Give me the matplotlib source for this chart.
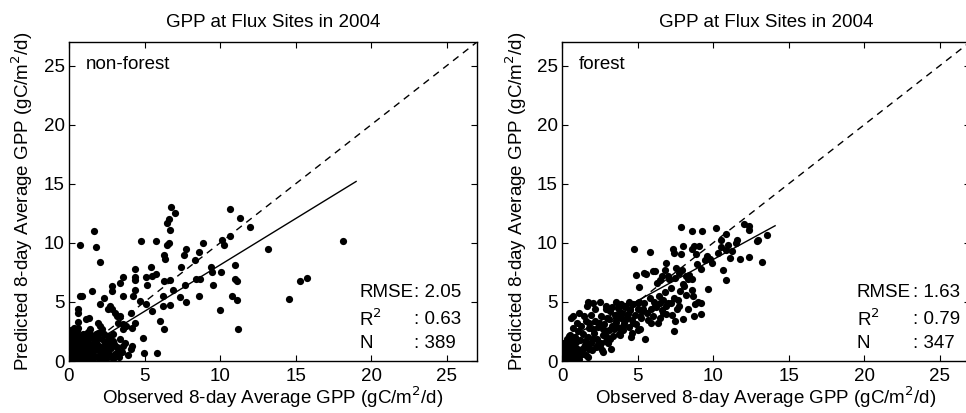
import matplotlib
matplotlib.use("Agg")
import matplotlib.pyplot as plt
import numpy as np

plt.rcParams['font.family'] = ['Liberation Sans', 'DejaVu Sans']

# non-forest sites: observed vs predicted 8-day GPP
nonforest_obs = [
    6.75, 7.04, 6.62, 6.47, 6.71, 1.63, 0.71, 1.77, 2.08, 4.77, 5.76, 6.51, 6.62,
    10.68, 11.32, 11.99, 10.13, 10.29, 10.68, 8.87, 7.77, 8.6, 7.64, 8.32, 6.27, 6.38,
    13.18, 18.12, 15.72, 15.32, 14.55, 11.21, 10.02, 10.77, 11.1, 10.99, 11.1, 11.01,
    10.04, 9.38, 9.45, 9.52, 8.43, 8.65, 8.63, 7.4, 7.66, 7.77, 7.35, 6.87, 6.71, 6.27,
    6.2, 6.69, 6.2, 6.27, 6.05, 5.85, 4.99, 4.88, 5.47, 5.08, 4.68, 4.39, 4.37, 4.37,
    4.35, 3.55, 3.38, 2.85, 2.85, 3.55, 4.24, 4.11, 4.15, 4.13, 3.6, 3.38, 3.6, 4.37,
    5.12, 5.41, 5.14, 5.76, 5.52, 1.55, 0.71, 0.86, 0.57, 0.57, 0.57, 1.13, 1.35, 1.33,
    2.08, 2.34, 2.71, 2.6, 2.85, 3.05, 3.16, 3.38, 3.27, 3.6, 3.77, 1.9, 2.06, 2.16,
    1.77, 1.83, 2.34, 2.6, 2.89, 2.94, 2.71, 2.49, 2.27, 2.05, 2.6, 3.05, 3.27, 1.61,
    1.39, 1.17,
    0.05, 0.1, 0.15, 0.2, 0.25, 0.3, 0.35, 0.4, 0.45, 0.5, 0.55, 0.6, 0.65, 0.7, 0.75,
    0.8, 0.85, 0.9, 0.95, 1.0, 1.05, 1.1, 1.15, 1.2, 1.25, 0.1, 0.15, 0.2, 0.25, 0.3,
    0.35, 0.4, 0.05, 0.1, 0.5, 0.6, 0.7, 0.8, 0.9, 1.0, 0.55, 0.05, 0.12, 0.22, 0.32,
    0.42, 0.52, 0.62, 0.72, 0.82, 0.92, 1.02, 1.12, 1.22, 1.32, 1.4, 1.5, 1.6, 1.7, 1.8,
    1.9, 2.0, 2.1, 2.2, 2.3, 2.4, 2.5, 2.6, 2.7, 2.8, 2.9, 3.0, 3.1, 1.45, 1.55, 1.65,
    1.75, 1.85, 1.95, 2.05, 2.15, 2.35, 2.45, 2.55, 2.65, 3.2, 3.5, 3.7, 3.9, 4.2, 3.3,
    0.02, 0.08, 0.18, 0.28, 0.38, 0.48, 0.58, 0.68, 0.78, 0.88, 0.98, 1.08, 1.18, 1.28,
    1.38, 0.15, 0.3, 0.6, 0.9, 1.2, 1.4,
]
nonforest_pred = [
    13.0, 12.5, 12.04, 11.68, 11.06, 10.98, 9.86, 9.61, 8.38, 10.14, 10.14, 9.86, 10.0,
    12.88, 12.07, 11.37, 10.28, 9.8, 10.56, 10.0, 9.44, 9.22, 8.94, 8.55, 8.94, 8.66,
    9.47, 10.14, 7.04, 6.76, 5.25, 2.68, 4.3, 5.47, 5.14, 6.93, 6.73, 8.1,
    7.57, 7.99, 7.57, 6.45, 6.93, 6.93, 5.47, 7.99, 6.45, 4.97, 5.42, 6.03, 6.87, 6.76,
    5.47, 4.75, 4.64, 2.68, 3.38, 0.67, 0.67, 1.98, 4.27, 4.86, 5.06, 6.03, 6.87, 7.15,
    7.82, 7.15, 6.59, 6.37, 5.89, 5.47, 5.47, 4.08, 2.79, 1.01, 1.28, 1.84, 2.68, 3.24,
    7.15, 7.99, 6.45, 7.37, 7.21, 5.89, 5.47, 5.47, 4.41, 4.08, 3.32, 3.52, 3.66, 2.54,
    4.86, 5.34, 4.64, 4.36, 4.36, 4.08, 3.8, 3.8, 3.24, 3.1, 2.96, 3.24, 2.96, 2.68,
    2.26, 1.98, 2.26, 2.12, 2.26, 1.7, 1.42, 1.15, 1.01, 0.59, 0.73, 0.59, 0.87, 1.42,
    1.01, 0.59,
    0.1, 0.3, 0.05, 0.5, 0.2, 0.8, 0.4, 0.1, 1.2, 0.6, 0.3, 0.9, 1.5, 0.2, 0.7,
    1.1, 0.4, 0.05, 0.8, 1.3, 0.5, 0.2, 0.9, 1.6, 0.6, 1.0, 1.5, 1.9, 2.3, 1.4,
    2.0, 2.6, 1.8, 2.2, 1.7, 2.1, 1.3, 1.9, 1.5, 2.0, 2.5, 0.6, 0.7, 0.9, 0.1,
    0.7, 1.1, 0.5, 1.0, 0.2, 1.2, 0.9, 1.4, 1.1, 0.3, 0.8, 1.2, 0.5, 0.9, 1.6,
    0.3, 1.3, 0.8, 1.9, 0.4, 1.5, 0.9, 1.7, 0.5, 1.1, 0.2, 1.4, 0.6, 2.2, 0.1, 1.9,
    0.3, 1.1, 2.4, 0.1, 0.5, 1.2, 0.2, 1.3, 2.0, 1.2, 0.8, 1.5, 0.5, 1.3, 0.3,
    0.35, 1.3, 0.15, 1.7, 1.0, 0.25, 1.4, 0.75, 1.55, 0.6, 0.25, 1.7, 0.35, 1.9,
    1.4, 2.6, 2.8, 2.8, 2.3, 2.4, 2.7,
]

# forest sites
forest_obs = [
    7.88, 8.6, 9.27, 10.22, 12.01, 12.39, 12.37, 10.88, 11.55, 10.55, 12.96, 12.88, 13.58,
    10.55, 10.88, 11.24, 11.1, 11.77, 12.39, 13.25, 10.66, 10.88, 9.69, 9.78, 9.49, 9.07,
    8.75, 8.6, 8.88, 8.01, 7.35, 7.42, 7.88, 4.73, 5.82, 4.91, 5.4, 5.58, 5.99, 6.15,
    5.07, 6.46, 6.9, 6.81, 6.59, 7.0, 7.54, 7.72, 7.96, 8.19, 8.35, 8.63, 8.05, 8.69,
    8.8, 9.03, 9.2, 8.32, 8.72, 9.2, 8.01, 7.46, 7.42, 7.75, 7.24, 6.9, 6.69, 6.35, 5.91,
    5.49, 5.13, 5.04, 4.54, 3.81, 3.54, 3.14, 5.0, 5.35, 5.91, 6.13, 6.46, 4.47, 4.14,
    3.81, 3.54, 2.92, 2.52, 2.04, 1.7, 1.66, 1.15, 0.71, 0.6, 0.97, 1.48, 1.81, 2.04,
    2.48, 2.7, 2.92, 3.21, 3.03, 2.59, 2.26, 2.7, 1.59, 1.37, 1.81, 1.7, 0.49, 0.38,
    4.25, 4.69, 5.13, 4.03, 3.58,
    0.05, 0.1, 0.15, 0.2, 0.25, 0.3, 0.35, 0.4, 0.45, 0.5, 0.55, 0.6, 0.65, 0.7, 0.75,
    0.8, 0.85, 0.9, 0.95, 1.0, 1.1, 1.2, 1.3, 1.4, 1.5, 1.6, 1.7, 1.8, 1.9, 2.0, 2.1,
    2.2, 2.3, 2.4, 2.5, 2.6, 2.7, 2.8, 2.9, 3.0, 3.1, 3.2, 3.3, 3.4, 3.5, 3.6, 3.7,
    3.8, 3.9, 4.0, 4.1, 4.2, 4.3, 4.4, 4.5, 4.6, 4.7, 4.8, 4.9, 5.0, 5.2, 5.4, 5.6,
    5.8, 6.0, 6.2, 6.4, 6.6, 6.8, 7.0, 7.2, 7.4, 7.6, 7.8, 8.0, 8.2, 8.4, 8.6, 8.9,
    9.2, 9.6, 9.9, 10.3, 11.0, 11.5, 0.05, 0.1, 0.2, 0.3, 0.15, 0.5, 0.35, 1.05, 1.25,
    0.7, 1.6, 1.9, 2.2, 0.4, 0.6, 0.9, 1.15, 1.35, 1.55, 1.75, 2.05, 2.35, 2.65, 2.85,
    3.15, 3.45, 3.75, 4.05, 4.35, 4.65, 5.1, 5.3, 5.7, 6.1, 6.5, 6.9, 7.3, 7.7, 3.3,
    3.9, 4.4, 2.9, 6.3, 7.1, 7.5, 6.7,
]
forest_pred = [
    11.37, 10.98, 10.98, 11.23, 11.56, 11.4, 11.06, 10.73, 10.28, 10.28, 10.28, 10.17, 10.7,
    9.66, 9.39, 9.33, 8.69, 8.66, 8.77, 8.38, 7.71, 6.87, 6.09, 8.66, 8.55, 9.75,
    9.75, 9.5, 9.05, 9.75, 9.44, 9.16, 9.05, 9.47, 9.19, 7.29, 7.43, 7.37, 7.65, 7.65,
    6.26, 6.87, 8.27, 7.71, 7.21, 7.21, 7.85, 7.49, 7.71, 7.21, 6.93, 6.93, 6.37, 5.53,
    4.86, 4.97, 4.92, 4.36, 3.8, 3.94, 3.52, 3.38, 2.54, 4.64, 4.92, 4.64, 4.08, 3.24, 3.24,
    1.9, 2.68, 2.63, 2.07, 2.23, 3.63, 3.52, 4.92, 4.36, 4.36, 4.64, 4.92, 4.36, 4.64,
    4.08, 4.97, 4.69, 4.97, 4.92, 4.97, 4.64, 4.08, 3.8, 3.66, 3.24, 3.8, 3.24, 2.68,
    3.24, 2.68, 2.12, 1.01, 1.56, 1.56, 1.15, 0.73, 1.56, 1.01, 1.01, 0.31, 2.12, 1.01,
    3.52, 3.24, 3.8, 2.96, 2.96,
    0.1, 0.4, 0.8, 0.2, 1.2, 0.5, 0.05, 0.9, 1.5, 0.3, 1.1, 0.6, 1.8, 0.2, 1.3,
    0.8, 2.0, 0.4, 1.6, 1.0, 0.2, 1.8, 0.6, 2.3, 1.3, 0.5, 2.0, 2.8, 1.5, 0.9, 2.4,
    3.4, 1.9, 2.9, 1.2, 3.8, 2.2, 3.1, 1.7, 3.6, 2.6, 4.2, 3.0, 2.1, 3.9, 3.3, 4.5,
    2.8, 3.6, 4.1, 3.2, 4.6, 3.7, 2.9, 4.3, 3.5, 4.8, 3.9, 3.1, 4.4, 3.6, 4.9, 4.1,
    5.3, 3.8, 4.6, 5.5, 4.3, 5.8, 4.9, 6.2, 5.3, 4.4, 5.9, 6.5, 5.6, 7.3, 6.0, 8.2,
    7.8, 8.9, 8.3, 9.1, 9.8, 10.0, 0.6, 1.5, 1.0, 1.9, 0.3, 2.2, 0.7, 2.5, 3.0,
    2.8, 3.4, 3.9, 4.4, 1.3, 0.1, 1.1, 0.6, 1.0, 1.7, 1.1, 1.9, 1.4, 0.9, 2.5,
    1.9, 2.7, 2.3, 2.6, 4.0, 2.4, 5.0, 4.2, 3.5, 5.0, 3.6, 4.0, 3.9, 5.2, 4.6,
    4.8, 5.0, 4.4, 6.6, 6.9, 7.0, 5.2,
]

# regression lines (slope, intercept, x end)
fits = [(0.785, 0.28, 19.0), (0.697, 1.62, 14.1)]
titles = ["GPP at Flux Sites in 2004", "GPP at Flux Sites in 2004"]
labels = ["non-forest", "forest"]
rmse = ["2.05", "1.63"]
r2 = ["0.63", "0.79"]
n = ["389", "347"]

fs = 13.5

fig = plt.figure(figsize=(9.66, 4.13), dpi=100)
ax1 = fig.add_axes([0.0714, 0.1259, 0.4224, 0.7724])
ax2 = fig.add_axes([0.5818, 0.1259, 0.4224, 0.7724])

data = [(nonforest_obs, nonforest_pred), (forest_obs, forest_pred)]
stat_x = [(19.2, 22.8), (19.5, 23.2)]

for i, ax in enumerate([ax1, ax2]):
    obs, pred = data[i]
    ax.plot(obs, pred, 'o', color='black', markersize=5.2, markeredgewidth=0)
    ax.plot([0, 27], [0, 27], '--', color='black', linewidth=1.0, dashes=(5, 4))
    slope, icpt, xend = fits[i]
    xx = np.array([0, xend])
    ax.plot(xx, slope * xx + icpt, '-', color='black', linewidth=1.0)

    ax.set_xlim(0, 27)
    ax.set_ylim(0, 27)
    ax.set_xticks([0, 5, 10, 15, 20, 25])
    ax.set_yticks([0, 5, 10, 15, 20, 25])
    ax.tick_params(direction='in', top=True, right=True, length=4, labelsize=fs)
    ax.tick_params(axis='x', pad=5)
    ax.tick_params(axis='y', pad=3)
    for s in ax.spines.values():
        s.set_linewidth(1.0)

    ax.set_title(titles[i], fontsize=fs, pad=11)
    ax.set_xlabel("Observed 8-day Average GPP (gC/m$^2$/d)", fontsize=fs, labelpad=0)
    ax.set_ylabel("Predicted 8-day Average GPP (gC/m$^2$/d)", fontsize=fs, labelpad=6)

    ax.text(1.1, 25.1, labels[i], fontsize=fs, va='center', ha='left')
    lx, cx = stat_x[i]
    ax.text(lx, 5.8, "RMSE", fontsize=fs, va='center')
    ax.text(cx, 5.8, ": " + rmse[i], fontsize=fs, va='center')
    ax.text(lx, 3.55, "R$^2$", fontsize=fs, va='center')
    ax.text(cx, 3.55, ": " + r2[i], fontsize=fs, va='center')
    ax.text(lx, 1.5, "N", fontsize=fs, va='center')
    ax.text(cx, 1.5, ": " + n[i], fontsize=fs, va='center')

fig.savefig("out.png", dpi=100)
